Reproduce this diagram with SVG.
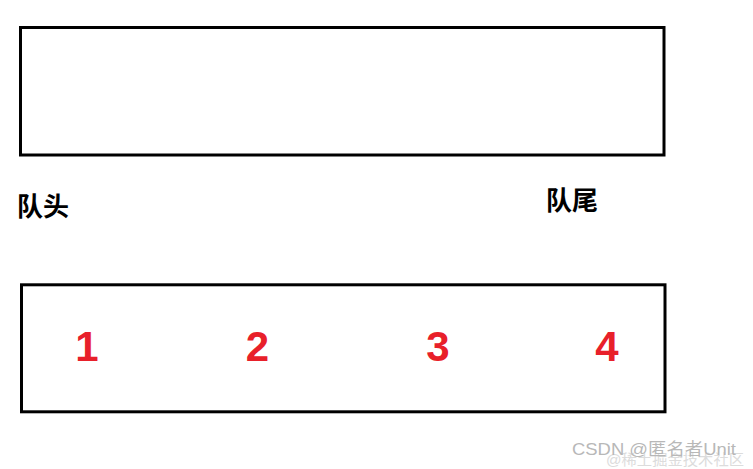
<svg xmlns="http://www.w3.org/2000/svg" width="753" height="469" viewBox="0 0 753 469">
<style>
.box{fill:none;stroke:#000;stroke-width:3}
.num{font-family:"Liberation Sans",Arial,sans-serif;font-weight:bold;font-size:42px;fill:#E8202A;text-anchor:middle}
.lbl{font-family:"Noto Sans CJK SC","Noto Sans",sans-serif;font-weight:bold;font-size:26px;fill:#000}
.wm{font-family:"Liberation Sans","Noto Sans CJK SC",sans-serif;font-size:17px;fill:#b8b8b8}
</style>
<rect width="753" height="469" fill="#fff"/>
<g id="queue-top">
<rect class="box" x="20.5" y="27.5" width="643.5" height="127.5"/>
</g>
<g id="head-label">
<text class="lbl" x="17" y="216">队头</text>
</g>
<g id="tail-label">
<text class="lbl" x="546" y="210">队尾</text>
</g>
<g id="queue-bottom">
<rect class="box" x="21.5" y="284.8" width="643.5" height="127"/>
<text class="num" x="87" y="361">1</text>
<text class="num" x="257.5" y="361">2</text>
<text class="num" x="438" y="361">3</text>
<text class="num" x="607" y="361">4</text>
</g>
<g id="connectors"></g>
<g id="watermark">
<text class="wm" x="606" y="465" style="fill:#dcdcdc;font-size:15px" textLength="138" lengthAdjust="spacingAndGlyphs">@稀土掘金技术社区</text>
<text class="wm" x="572" y="455" textLength="164" lengthAdjust="spacingAndGlyphs">CSDN @匿名者Unit</text>
</g>
</svg>
